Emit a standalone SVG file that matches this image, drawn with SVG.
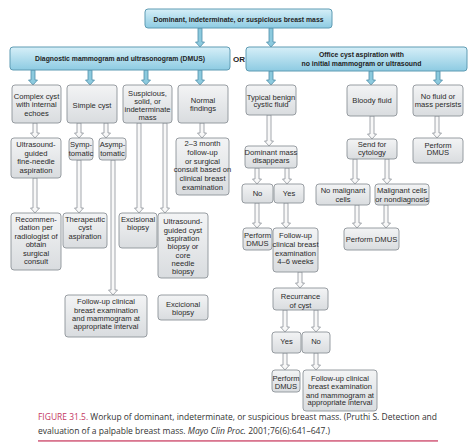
<svg xmlns="http://www.w3.org/2000/svg" width="474" height="447" viewBox="0 0 474 447">
<defs>
<linearGradient id="g" x1="0" y1="0" x2="0" y2="1"><stop offset="0" stop-color="#f3f4f5"/><stop offset="1" stop-color="#d9dcdf"/></linearGradient>
<linearGradient id="b" x1="0" y1="0" x2="0" y2="1"><stop offset="0" stop-color="#d6eff8"/><stop offset="1" stop-color="#8dcbe2"/></linearGradient>
</defs>
<style>
.box{fill:url(#g);stroke:#8d9399;stroke-width:0.9}
.hdr{fill:url(#b);stroke:#5e9bb3;stroke-width:1}
.t{font-family:"Liberation Sans Narrow","Liberation Sans",Arial,sans-serif;font-size:7.6px;fill:#2a2a2a;text-anchor:middle}
.h{font-family:"Liberation Sans Narrow","Liberation Sans",Arial,sans-serif;font-size:8px;font-weight:bold;fill:#1e1e1e;text-anchor:middle}
.ag{fill:#f8f8f8;stroke:#8d9399;stroke-width:0.8}
.ab{fill:#8ccade;stroke:#4f8ea8;stroke-width:0.8}
.cap{font-family:"Open Sans","Noto Sans",sans-serif;font-size:8.2px;fill:#333}
</style>
<rect width="474" height="447" fill="#fff"/>
<g id="connectors">
<path class="ab" d="M198 28H202V42H204.5L200 47L195.5 42H198Z"/>
<path class="ab" d="M269 28H273V42H275.5L271 47L266.5 42H269Z"/>
<path class="ab" d="M31 70H35V80H37.5L33 85L28.5 80H31Z"/>
<path class="ab" d="M88 70H92V80H94.5L90 85L85.5 80H88Z"/>
<path class="ab" d="M144 70H148V80H150.5L146 85L141.5 80H144Z"/>
<path class="ab" d="M198 70H202V80H204.5L200 85L195.5 80H198Z"/>
<path class="ab" d="M269 71H273V80H275.5L271 85L266.5 80H269Z"/>
<path class="ab" d="M369 71H373V80H375.5L371 85L366.5 80H369Z"/>
<path class="ab" d="M436 71H440V80H442.5L438 85L433.5 80H436Z"/>
<path class="ag" d="M33 123H37V133H39.5L35 138L30.5 133H33Z"/>
<path class="ag" d="M77 123H81V133H83.5L79 138L74.5 133H77Z"/>
<path class="ag" d="M104 123H108V133H110.5L106 138L101.5 133H104Z"/>
<path class="ag" d="M200 123H204V133H206.5L202 138L197.5 133H200Z"/>
<path class="ag" d="M33 178H37V208H39.5L35 213L30.5 208H33Z"/>
<path class="ag" d="M77 160H81V208H83.5L79 213L74.5 208H77Z"/>
<path class="ag" d="M111 160H115V290H117.5L113 295L108.5 290H111Z"/>
<path class="ag" d="M137 123H141V208H143.5L139 213L134.5 208H137Z"/>
<path class="ag" d="M163 123H167V208H169.5L165 213L160.5 208H163Z"/>
<path class="ag" d="M267 115H271V141H273.5L269 146L264.5 141H267Z"/>
<path class="ag" d="M370 116H374V134H376.5L372 139L367.5 134H370Z"/>
<path class="ag" d="M435 116H439V133H441.5L437 138L432.5 133H435Z"/>
<path class="ag" d="M255 168H259V179H261.5L257 184L252.5 179H255Z"/>
<path class="ag" d="M285 168H289V179H291.5L287 184L282.5 179H285Z"/>
<path class="ag" d="M353 159H357V179H359.5L355 184L350.5 179H353Z"/>
<path class="ag" d="M385 159H389V179H391.5L387 184L382.5 179H385Z"/>
<path class="ag" d="M355 205H359V223H361.5L357 228L352.5 223H355Z"/>
<path class="ag" d="M384 205H388V223H390.5L386 228L381.5 223H384Z"/>
<path class="ag" d="M255 203H259V223H261.5L257 228L252.5 223H255Z"/>
<path class="ag" d="M284 203H288V223H290.5L286 228L281.5 223H284Z"/>
<path class="ag" d="M298 272H302V283H304.5L300 288L295.5 283H298Z"/>
<path class="ag" d="M283 310H287V327H289.5L285 332L280.5 327H283Z"/>
<path class="ag" d="M314 310H318V327H320.5L316 332L311.5 327H314Z"/>
<path class="ag" d="M283 353H287V365H289.5L285 370L280.5 365H283Z"/>
<path class="ag" d="M314 353H318V365H320.5L316 370L311.5 365H314Z"/>
</g>
<g id="top"><rect class="hdr" x="145" y="9" width="187" height="19" rx="3"/><text class="h" x="238.5" y="21.5" textLength="170" lengthAdjust="spacingAndGlyphs">Dominant, indeterminate, or suspicious breast mass</text></g>
<g id="dmus"><rect class="hdr" x="10" y="47" width="220" height="23" rx="3"/><text class="h" x="120" y="61" textLength="170" lengthAdjust="spacingAndGlyphs">Diagnostic mammogram and ultrasonogram (DMUS)</text></g>
<text class="h" x="239" y="61.5">OR</text>
<g id="office"><rect class="hdr" x="246" y="47" width="221" height="24" rx="3"/><text class="h" x="361.5" y="57" textLength="85" lengthAdjust="spacingAndGlyphs">Office cyst aspiration with</text><text class="h" x="361.5" y="66" textLength="120" lengthAdjust="spacingAndGlyphs">no initial mammogram or ultrasound</text></g>
<g id="complex"><rect class="box" x="12" y="85" width="49" height="38" rx="3"/><text class="t"><tspan x="36.5" y="98.5">Complex cyst</tspan><tspan x="36.5" y="107">with internal</tspan><tspan x="36.5" y="115.5">echoes</tspan></text></g>
<g id="simple"><rect class="box" x="67" y="85" width="50" height="38" rx="3"/><text class="t" x="92" y="107.5">Simple cyst</text></g>
<g id="suspicious"><rect class="box" x="123" y="85" width="49" height="38" rx="3"/><text class="t"><tspan x="147.5" y="96">Suspicious,</tspan><tspan x="147.5" y="104">solid, or</tspan><tspan x="147.5" y="112">indeterminate</tspan><tspan x="147.5" y="120">mass</tspan></text></g>
<g id="normal"><rect class="box" x="178" y="85" width="50" height="38" rx="3"/><text class="t"><tspan x="203" y="102.5">Normal</tspan><tspan x="203" y="111">findings</tspan></text></g>
<g id="usfna"><rect class="box" x="11" y="138" width="50" height="40" rx="3"/><text class="t"><tspan x="36" y="147">Ultrasound-</tspan><tspan x="36" y="155.5">guided</tspan><tspan x="36" y="164">fine-needle</tspan><tspan x="36" y="172.5">aspiration</tspan></text></g>
<g id="symp"><rect class="box" x="69" y="138" width="24" height="22" rx="3"/><text class="t"><tspan x="81" y="147">Symp-</tspan><tspan x="81" y="155.5">tomatic</tspan></text></g>
<g id="asymp"><rect class="box" x="99" y="138" width="27" height="22" rx="3"/><text class="t"><tspan x="112.5" y="147">Asymp-</tspan><tspan x="112.5" y="155.5">tomatic</tspan></text></g>
<g id="followup23"><rect class="box" x="176" y="138" width="53" height="57" rx="3"/><text class="t"><tspan x="202.5" y="146">2–3 month</tspan><tspan x="202.5" y="154.8">follow-up</tspan><tspan x="202.5" y="163.6">or surgical</tspan><tspan x="202.5" y="172.4">consult based on</tspan><tspan x="202.5" y="181.2">clinical breast</tspan><tspan x="202.5" y="190">examination</tspan></text></g>
<g id="recommend"><rect class="box" x="11" y="213" width="50" height="57" rx="3"/><text class="t"><tspan x="36" y="222">Recommen-</tspan><tspan x="36" y="230.4">dation per</tspan><tspan x="36" y="238.8">radiologist of</tspan><tspan x="36" y="247.2">obtain</tspan><tspan x="36" y="255.6">surgical</tspan><tspan x="36" y="264">consult</tspan></text></g>
<g id="therapeutic"><rect class="box" x="63" y="213" width="44" height="35" rx="3"/><text class="t"><tspan x="85" y="222">Therapeutic</tspan><tspan x="85" y="230.4">cyst</tspan><tspan x="85" y="238.8">aspiration</tspan></text></g>
<g id="excisional"><rect class="box" x="119" y="213" width="38" height="35" rx="3"/><text class="t"><tspan x="138" y="222">Excisional</tspan><tspan x="138" y="230.4">biopsy</tspan></text></g>
<g id="uscore"><rect class="box" x="158" y="213" width="50" height="65" rx="3"/><text class="t"><tspan x="183" y="224.4">Ultrasound-</tspan><tspan x="183" y="232.7">guided cyst</tspan><tspan x="183" y="241">aspiration</tspan><tspan x="183" y="249.4">biopsy or</tspan><tspan x="183" y="257.7">core</tspan><tspan x="183" y="266">needle</tspan><tspan x="183" y="274.4">biopsy</tspan></text></g>
<g id="followleft"><rect class="box" x="65" y="295" width="82" height="42" rx="3"/><text class="t"><tspan x="106" y="304.4">Follow-up clinical</tspan><tspan x="106" y="312.7">breast examination</tspan><tspan x="106" y="321">and mammogram at</tspan><tspan x="106" y="329.4">appropriate interval</tspan></text></g>
<g id="excicional"><rect class="box" x="158" y="295" width="50" height="25" rx="3"/><text class="t"><tspan x="183" y="307">Excicional</tspan><tspan x="183" y="315">biopsy</tspan></text></g>
<g id="typical"><rect class="box" x="246" y="85" width="50" height="30" rx="3"/><text class="t"><tspan x="271" y="99.5">Typical benign</tspan><tspan x="271" y="107">cystic fluid</tspan></text></g>
<g id="bloody"><rect class="box" x="347" y="85" width="50" height="31" rx="3"/><text class="t" x="372" y="102.7">Bloody fluid</text></g>
<g id="nofluid"><rect class="box" x="413" y="85" width="50" height="31" rx="3"/><text class="t"><tspan x="438" y="99.4">No fluid or</tspan><tspan x="438" y="107">mass persists</tspan></text></g>
<g id="disappears"><rect class="box" x="245" y="146" width="52" height="22" rx="3"/><text class="t"><tspan x="271" y="154.8">Dominant mass</tspan><tspan x="271" y="163.4">disappears</tspan></text></g>
<g id="cytology"><rect class="box" x="347" y="139" width="50" height="20" rx="3"/><text class="t"><tspan x="372" y="147">Send for</tspan><tspan x="372" y="155.4">cytology</tspan></text></g>
<g id="dmus3"><rect class="box" x="413" y="138" width="50" height="25" rx="3"/><text class="t"><tspan x="438" y="147.7">Perform</tspan><tspan x="438" y="155.4">DMUS</tspan></text></g>
<g id="no1"><rect class="box" x="242" y="184" width="31" height="19" rx="3"/><text class="t" x="257.5" y="196">No</text></g>
<g id="yes1"><rect class="box" x="274" y="184" width="30" height="19" rx="3"/><text class="t" x="289" y="196">Yes</text></g>
<g id="nomalig"><rect class="box" x="316" y="184" width="54" height="21" rx="3"/><text class="t"><tspan x="343" y="193.4">No malignant</tspan><tspan x="343" y="201.7">cells</tspan></text></g>
<g id="malig"><rect class="box" x="375" y="184" width="54" height="21" rx="3"/><text class="t"><tspan x="402" y="193.4">Malignant cells</tspan><tspan x="402" y="201.7">or nondiagnosis</tspan></text></g>
<g id="dmus4"><rect class="box" x="344" y="228" width="55" height="22" rx="3"/><text class="t" x="371.5" y="242">Perform DMUS</text></g>
<g id="dmus1"><rect class="box" x="243" y="228" width="29" height="22" rx="3"/><text class="t"><tspan x="257.5" y="237.7">Perform</tspan><tspan x="257.5" y="246">DMUS</tspan></text></g>
<g id="follow46"><rect class="box" x="273" y="228" width="45" height="44" rx="3"/><text class="t"><tspan x="295.5" y="238.4">Follow-up</tspan><tspan x="295.5" y="247.2">clinical breast</tspan><tspan x="295.5" y="256">examination</tspan><tspan x="295.5" y="264.4">4–6 weeks</tspan></text></g>
<g id="recur"><rect class="box" x="273" y="288" width="55" height="22" rx="3"/><text class="t"><tspan x="300.5" y="299.4">Recurrance</tspan><tspan x="300.5" y="307.7">of cyst</tspan></text></g>
<g id="yes2"><rect class="box" x="272" y="332" width="29" height="21" rx="3"/><text class="t" x="286.5" y="344.4">Yes</text></g>
<g id="no2"><rect class="box" x="302" y="332" width="28" height="21" rx="3"/><text class="t" x="316" y="344.4">No</text></g>
<g id="dmus2"><rect class="box" x="272" y="370" width="28" height="22" rx="3"/><text class="t"><tspan x="286" y="381">Perform</tspan><tspan x="286" y="389.4">DMUS</tspan></text></g>
<g id="followright"><rect class="box" x="303" y="370" width="74" height="41" rx="3"/><text class="t"><tspan x="340" y="381">Follow-up clinical</tspan><tspan x="340" y="389.3">breast examination</tspan><tspan x="340" y="397.6">and mammogram at</tspan><tspan x="340" y="405.4">appropriate interval</tspan></text></g>
<g id="caption">
<text class="cap" x="38" y="420" textLength="399" lengthAdjust="spacingAndGlyphs"><tspan fill="#c4365f">FIGURE 31.5.</tspan> Workup of dominant, indeterminate, or suspicious breast mass. (Pruthi S. Detection and</text>
<text class="cap" x="38" y="434" textLength="292" lengthAdjust="spacingAndGlyphs">evaluation of a palpable breast mass. <tspan font-style="italic">Mayo Clin Proc.</tspan> 2001;76(6):641–647.)</text>
<rect x="38" y="440" width="400" height="1.8" fill="#d9758f"/>
</g>
</svg>
